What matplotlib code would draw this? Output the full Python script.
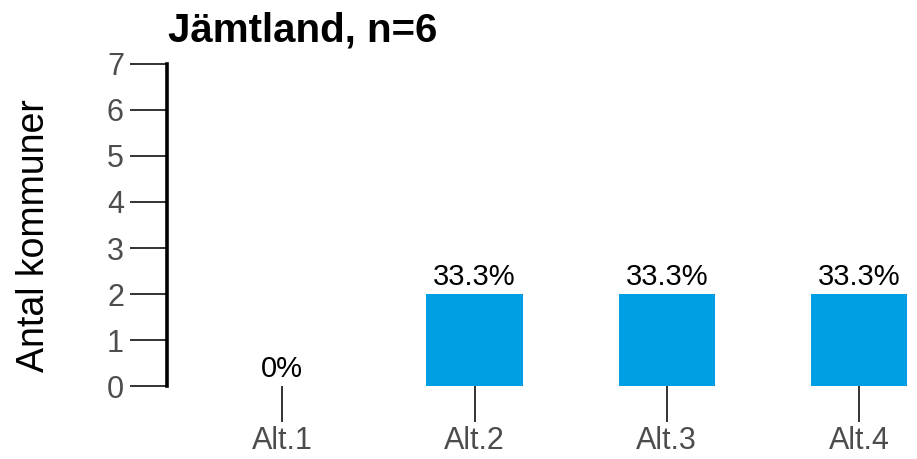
import matplotlib
matplotlib.use("Agg")
import matplotlib.pyplot as plt

kategorier = ["Alt.1", "Alt.2", "Alt.3", "Alt.4"]
antal = [0, 2, 2, 2]
andel = ["0%", "33.3%", "33.3%", "33.3%"]
titel = "Jämtland, n=6"

plt.rcParams['font.family'] = ['Liberation Sans', 'DejaVu Sans']

fig = plt.figure(figsize=(9.17, 4.59), dpi=100)
ax = fig.add_axes([0.1821, 0.159, 0.807, 0.7016])

x = list(range(len(kategorier)))
ax.bar(x, antal, width=0.5, color="#009FE3")
for xi, yi, txt in zip(x, antal, andel):
    ax.annotate(txt, (xi, yi), xytext=(0, 2), textcoords="offset points",
                ha="center", va="bottom", fontsize=21, color="black")

ax.set_xlim(-0.6, 3.25)
ax.set_ylim(0, 7)
ax.set_yticks(range(0, 8))
ax.set_xticks(x)
ax.set_xticklabels(kategorier)

for side in ["top", "right", "bottom"]:
    ax.spines[side].set_visible(False)
ax.spines["left"].set_linewidth(2.6)
ax.spines["left"].set_color("black")

ax.tick_params(axis="y", length=27, width=1.4, color="#333333",
               labelsize=22, labelcolor="#4d4d4d", pad=4)
ax.tick_params(axis="x", length=26, width=1.4, color="#333333",
               labelsize=22, labelcolor="#4d4d4d", pad=3)

fig.text(168 / 917, 1 - 42 / 459, titel, fontsize=29, fontweight="bold",
         ha="left", va="baseline")
fig.text(34 / 917, 1 - 236 / 459, "Antal kommuner", fontsize=27,
         rotation=90, ha="center", va="center")

fig.savefig("out.png", dpi=100)
